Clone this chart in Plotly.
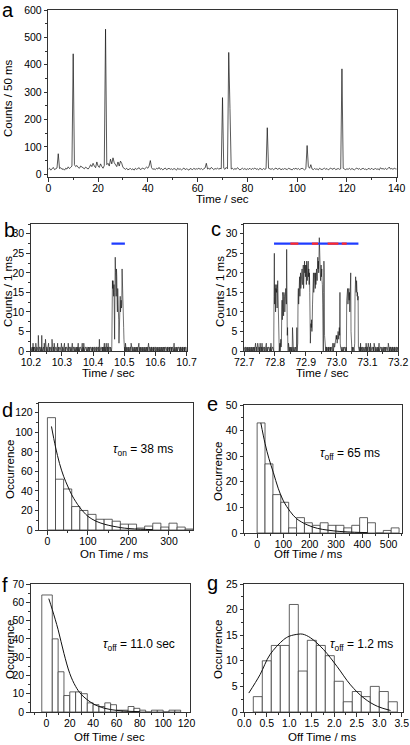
import numpy as np
import plotly.graph_objects as go

W, H = 410, 745
FONT = "Liberation Sans, Arial, Helvetica, sans-serif"
INK = "#111111"

# ---------------- data ----------------
# Panel a: counts / 50 ms, one value every 0.5 s from 0 to 140 s
a_step = 0.5
a_counts = [
    18,22,15,20,25,17,19,23,75,21, 24,18,20,15,22,19,27,21,25,30,
    440,35,28,32,25,22,30,27,24,20, 26,22,19,25,35,28,40,30,24,45,
    30,25,38,28,22,32,530,35,40,30, 55,38,60,42,33,28,45,30,48,40,
    25,20,18,22,16,19,21,17,20,15, 22,18,20,24,17,19,23,18,21,26,
    22,30,50,24,18,20,17,22,19,25, 18,21,16,20,23,17,19,22,18,20,
    17,21,19,15,22,18,20,16,19,23, 17,20,18,15,21,19,17,22,18,20,
    19,22,18,21,17,20,23,40,19,22, 18,25,20,17,21,19,23,18,22,20,
    280,22,18,25,20,445,240,19,22,17, 21,18,24,20,16,19,22,18,21,17,
    20,18,22,17,21,19,23,18,20,16, 22,19,17,21,18,20,170,22,19,18,
    21,17,20,23,18,19,22,16,20,18, 21,19,17,22,20,18,16,21,19,22,
    18,21,17,20,22,19,16,20,105,28, 22,35,19,17,21,18,20,16,22,19,
    17,20,22,18,21,16,19,23,18,20, 22,17,19,21,18,20,385,22,19,17,
    20,18,22,17,21,19,16,20,23,18, 21,17,20,22,18,19,16,21,20,18,
    22,17,19,21,18,20,16,24,19,21, 18,22,17,20,26,19,21,18,22,20,19,
]

# Panel b: counts / 1 ms from 10.200 s
b_t0, b_step = 10.2, 0.001
b_counts = [
    1,0,1,0,1,1,0,2,0,1, 0,1,1,0,1,0,2,1,0,1, 1,0,1,0,4,1,0,1,1,0, 1,0,1,1,0,4,1,0,1,0, 1,1,0,2,1,0,1,3,0,1,
    0,1,1,0,1,0,1,2,0,1, 1,0,1,0,1,1,0,1,3,0, 1,0,1,1,0,2,1,0,1,0, 1,1,0,1,0,1,2,0,1,1, 0,1,0,1,1,0,1,0,2,1,
    1,0,1,1,0,1,0,1,2,0, 1,1,0,1,0,1,1,0,1,0, 2,1,0,1,1,0,1,0,1,1, 0,1,0,2,1,0,1,1,0,1, 0,1,1,0,1,0,1,0,1,1,
    0,1,2,0,1,1,0,1,0,1, 1,0,1,0,1,2,0,1,1,0, 2,1,0,1,0,1,1,0,1,0, 1,1,0,1,0,1,0,1,1,0, 1,0,1,1,0,1,0,1,0,1,
    1,0,1,0,1,1,0,1,0,1, 1,0,1,1,0,1,0,1,1,0, 3,1,0,1,0,1,1,0,1,0, 1,0,1,1,0,1,2,0,1,1, 0,1,2,1,0,1,1,0,2,1,
    0,1,1,0,1,0,1,0,1,0, 1,15,18,16,18,17,14,17,6,3, 15,24,20,18,14,21,19,12,10,16, 14,13,8,2,5,12,11,14,10,12, 13,11,12,21,16,10,12,11,6,3,
    1,0,1,0,2,1,0,1,1,0, 1,0,1,0,1,1,0,1,0,1, 1,0,2,1,0,1,0,1,1,0, 1,0,1,0,1,1,0,1,0,1, 0,1,1,0,1,0,1,2,0,1,
    1,0,1,1,0,1,0,1,0,1, 1,0,1,0,1,0,1,1,0,1, 0,1,0,1,1,0,1,0,2,1, 0,1,1,0,1,0,1,0,1,1, 0,1,0,1,0,1,1,0,1,0,
    1,1,0,1,0,1,0,1,1,0, 1,0,1,0,1,1,0,1,0,1, 0,1,1,0,1,0,1,0,1,1, 0,1,0,1,1,0,1,0,1,0, 1,1,0,1,0,1,0,1,1,0,
    1,0,1,0,1,1,0,1,0,1, 2,0,1,1,0,1,0,1,0,1, 1,0,1,0,1,1,0,1,0,1, 0,1,1,0,1,0,1,0,1,1, 0,1,0,1,0,1,1,0,1,0,
    1,
]
b_on_window = [10.459, 10.502]
b_bar_level = 27.5

# Panel c: counts / 1 ms from 72.700 s
c_t0, c_step = 72.7, 0.001
c_counts = [
    1,0,1,0,1,1,0,1,0,1, 0,1,1,0,1,0,1,0,1,1, 0,1,0,1,0,1,1,0,1,0, 1,0,1,1,0,1,0,2,1,0, 1,1,0,1,2,1,0,1,0,1,
    0,1,2,1,0,1,1,0,2,1, 0,1,1,0,1,0,1,1,0,1, 0,1,2,0,1,1,0,1,0,1, 1,0,1,0,1,1,0,2,1,0, 1,0,1,1,0,1,0,14,25,12,
    14,17,10,16,12,15,17,11,16,18, 13,18,12,3,0,1,2,0,1,3, 1,2,10,13,8,15,11,14,9,15, 12,14,10,15,13,16,14,12,26,8, 4,6,1,0,2,0,1,0,1,0,
    0,1,0,1,0,1,0,6,0,1, 0,0,1,0,0,1,0,1,0,0, 1,6,0,1,2,14,16,12,18,17, 19,14,18,20,16,19,18,20,21,17, 17,20,22,16,21,19,23,20,22,19,
    20,22,17,23,21,18,22,20,23,19, 21,17,20,15,4,2,5,7,6,8, 5,7,12,16,18,20,15,19,18,20, 19,16,20,17,19,21,20,18,22,24, 21,23,20,24,29,24,21,23,18,20,
    22,19,21,18,17,12,3,0,15,23, 20,4,2,0,1,0,1,0,1,1, 0,1,0,1,0,1,1,0,1,0, 1,0,1,1,0,1,0,1,2,1, 0,1,2,1,1,2,3,2,3,4,
    3,4,2,4,3,5,4,3,5,6, 4,15,2,1,0,1,0,1,1,0, 1,0,1,0,1,0,1,1,0,1, 0,1,0,13,15,14,16,12,15,14, 16,13,15,10,16,14,20,5,2,0,
    0,1,0,0,1,0,1,0,1,2, 14,16,19,17,15,18,16,14,15,13, 14,1,0,1,0,1,1,0,2,0, 1,0,1,0,1,1,0,1,0,1, 0,1,0,1,1,0,2,1,0,1,
    1,0,1,2,0,1,0,1,1,0, 2,1,0,1,0,1,1,0,1,0, 1,0,2,1,0,1,0,1,1,0, 1,0,1,0,1,1,0,1,2,0, 1,0,1,1,0,1,0,1,0,1,
    0,1,1,0,1,0,1,0,1,1, 0,1,0,1,1,0,1,0,2,1, 0,1,0,1,0,1,1,0,1,0, 1,0,1,1,0,1,0,1,0,1, 1,0,1,0,1,1,0,1,0,1,
    0,
]
c_on_window = [72.797, 73.071]
c_off_starts = [72.850, 72.920, 72.971, 73.017]
c_off_ends = [72.876, 72.940, 73.006, 73.033]
c_bar_level = 27.5

# Panel d: on-time histogram (20 ms bins)
d_bin_start, d_bin_width = 0, 20
d_counts = [115, 52, 42, 24, 20, 16, 11, 11, 9, 6, 6, 2, 4, 7, 3, 7, 3, 1]
d_fit_x = [10, 20, 30, 40, 50, 60, 70, 80, 100, 120, 140, 160, 180, 200, 230, 260]
d_fit_y = [106, 85, 68, 55, 45, 36, 29, 23, 14, 9, 6, 4, 2.5, 1.5, 0.8, 0.4]

# Panel e: off-time histogram (30 ms bins)
e_bin_start, e_bin_width = 0, 30
e_counts = [43, 27, 15, 12, 2, 6, 4, 3, 4, 3, 3, 2, 3, 6, 4, 0, 1, 2]
e_fit_x = [14, 30, 45, 62, 80, 100, 125, 150, 190, 230, 270, 315, 370, 420]
e_fit_y = [43, 35, 29, 23.5, 17.5, 12.5, 8.5, 5.6, 3.2, 1.8, 1.1, 0.6, 0.3, 0.15]

# Panel f: off-time histogram (5 s bins; the first bar is drawn wider in the source)
f_bin_edges = [-4, 5, 10, 15, 20, 25, 30, 35, 40, 45, 50, 55, 60, 65, 70, 75, 80,
               85, 90, 95, 100, 105, 110, 115]
f_counts = [64, 40, 22, 9, 11, 11, 10, 5, 4, 3, 5, 4, 1, 1, 3, 2, 1, 0, 1, 1, 0, 1, 1]
f_fit_x = [2, 5, 10, 15, 20, 25, 30, 40, 50, 60, 70, 80]
f_fit_y = [62, 56, 45, 32, 21, 14, 9.5, 4.5, 2, 0.9, 0.4, 0.2]

# Panel g: off-time histogram (0.2 ms bins)
g_bin_start, g_bin_width = 0.2, 0.2
g_counts = [3, 10, 13, 13, 21, 8, 14, 13, 11, 6, 2, 4, 3, 5, 4, 2]
g_fit_x = [0.1, 0.35, 0.57, 0.87, 1.0, 1.2, 1.3, 1.47, 1.76, 2.06, 2.36, 2.66, 2.96, 3.25]
g_fit_y = [3.7, 7.3, 11.2, 14.1, 14.8, 15.2, 15.2, 14.5, 12.2, 8.9, 5.3, 2.7, 1.1, 0.3]

# ---------------- figure ----------------
def px(x):
    return x / W

def py(y):
    return 1 - y / H

fig = go.Figure()

def trace_line(x, y, k, color=INK, width=0.8, shape="linear"):
    fig.add_trace(go.Scatter(x=x, y=y, mode="lines", xaxis=f"x{k}", yaxis=f"y{k}",
                             line=dict(color=color, width=width, shape=shape),
                             hoverinfo="skip", showlegend=False))

def hist_edges(counts, edges, k):
    centers = [(edges[i] + edges[i + 1]) / 2 for i in range(len(counts))]
    widths = [edges[i + 1] - edges[i] for i in range(len(counts))]
    fig.add_trace(go.Bar(x=centers, y=counts, width=widths, xaxis=f"x{k}", yaxis=f"y{k}",
                         marker=dict(color="white", line=dict(color="#3a3a3a", width=0.8)),
                         hoverinfo="skip", showlegend=False))

def hist(counts, start, width, k):
    edges = [start + width * i for i in range(len(counts) + 1)]
    hist_edges(counts, edges, k)

# a
a_t = [i * a_step for i in range(len(a_counts))]
trace_line(a_t, a_counts, "", width=0.7)
# b
b_t = [b_t0 + i * b_step for i in range(len(b_counts))]
trace_line(b_t, b_counts, 2, width=0.6)
trace_line(b_on_window, [b_bar_level] * 2, 2, color="#1f3cff", width=2.2)
# c
c_t = [c_t0 + i * c_step for i in range(len(c_counts))]
trace_line(c_t, c_counts, 3, width=0.6)
trace_line(c_on_window, [c_bar_level] * 2, 3, color="#1f3cff", width=2.2)
for s, e in zip(c_off_starts, c_off_ends):
    trace_line([s, e], [c_bar_level] * 2, 3, color="#ff2a2a", width=2.2)
# d-g
hist(d_counts, d_bin_start, d_bin_width, 4)
trace_line(d_fit_x, d_fit_y, 4, color="#111", width=1.0, shape="spline")
hist(e_counts, e_bin_start, e_bin_width, 5)
trace_line(e_fit_x, e_fit_y, 5, color="#111", width=1.0, shape="spline")
hist_edges(f_counts, f_bin_edges, 6)
trace_line(f_fit_x, f_fit_y, 6, color="#111", width=1.0, shape="spline")
hist(g_counts, g_bin_start, g_bin_width, 7)
trace_line(g_fit_x, g_fit_y, 7, color="#111", width=1.0, shape="spline")


def axis(domain, rng, dtick, mdtick, anchor, fmt=None, standoff=0):
    d = dict(domain=domain, range=rng, anchor=anchor, automargin=False, showline=True,
             linecolor="#333", linewidth=1, mirror=True, ticks="outside", ticklen=3.5,
             tickwidth=1, tickcolor="#333", tick0=0, dtick=dtick, showgrid=False,
             zeroline=False, ticklabelstandoff=standoff,
             minor=dict(ticks="outside", ticklen=2, tickwidth=1, tickcolor="#333",
                        dtick=mdtick, tick0=0, showgrid=False),
             tickfont=dict(family=FONT, size=10.5, color="black"), fixedrange=True)
    if fmt:
        d["tickformat"] = fmt
    return d

# plot-area boxes in pixels: (left, right, top, bottom)
boxes = {
    "": (48.3, 396.7, 10, 177),
    "2": (30.7, 186.7, 224, 351),
    "3": (244, 398.3, 224, 351),
    "4": (39.3, 193.3, 403, 530),
    "5": (244, 401.7, 405, 533),
    "6": (30.7, 190, 584, 712),
    "7": (244.3, 402.7, 584, 712),
}
specs = {
    "": dict(xr=[0, 140], xd=20, xm=10, yr=[-10, 600], yd=100, ym=50),
    "2": dict(xr=[10.1995, 10.7005], xd=0.1, xm=0.05, yr=[0, 32.5], yd=5, ym=2.5, xf=".1f"),
    "3": dict(xr=[72.6995, 73.2005], xd=0.1, xm=0.05, yr=[0, 32.5], yd=5, ym=2.5, xf=".1f"),
    "4": dict(xr=[-20, 360], xd=100, xm=50, yr=[0, 130], yd=20, ym=10),
    "5": dict(xr=[-50, 550], xd=100, xm=50, yr=[0, 50], yd=10, ym=5),
    "6": dict(xr=[-13.5, 123], xd=20, xm=10, yr=[0, 70], yd=10, ym=5),
    "7": dict(xr=[0, 3.52], xd=0.5, xm=0.25, yr=[0, 25], yd=5, ym=2.5, xf=".1f"),
}
layout_axes = {}
for k, (l, r, t, b) in boxes.items():
    s = specs[k]
    layout_axes[f"xaxis{k}"] = axis([px(l), px(r)], s["xr"], s["xd"], s["xm"], f"y{k}",
                                    s.get("xf"), standoff=-2)
    layout_axes[f"yaxis{k}"] = axis([py(b), py(t)], s["yr"], s["yd"], s["ym"], f"x{k}")

ann = []

def text(t, x, y, size=11.5, angle=0, xanchor="center"):
    ann.append(dict(text=t, x=px(x), y=py(y), xref="paper", yref="paper", showarrow=False,
                    xanchor=xanchor, yanchor="middle", textangle=angle,
                    font=dict(family=FONT, size=size, color="black")))

# axis titles
text("Time / sec", 222, 199)
text("Counts / 50 ms", 8, 98, angle=-90)
text("Time / sec", 108, 373)
text("Counts / 1 ms", 8, 292, angle=-90)
text("Time / sec", 322, 373)
text("Counts / 1 ms", 220, 292, angle=-90)
text("On Time / ms", 114, 554)
text("Occurrence", 10, 470, angle=-90)
text("Off Time / ms", 308, 554)
text("Occurrence", 218, 472, angle=-90)
text("Off Time / sec", 109, 737)
text("Occurrence", 10, 650, angle=-90)
text("Off Time / ms", 322, 737)
text("Occurrence", 218, 650, angle=-90)

# panel letters
for letter, x, y in [("a", 8, 10), ("b", 9, 230), ("c", 216, 229), ("d", 7, 410),
                     ("e", 212, 404), ("f", 5, 585), ("g", 212, 583)]:
    text(letter, x, y, size=20)

# fit labels
text("<i>τ</i><sub>on</sub> = 38 ms", 111, 450, size=12, xanchor="left")
text("<i>τ</i><sub>off</sub> = 65 ms", 318, 454, size=12, xanchor="left")
text("<i>τ</i><sub>off</sub> = 11.0 sec", 101, 645, size=12, xanchor="left")
text("<i>τ</i><sub>off</sub> = 1.2 ms", 328, 645, size=12, xanchor="left")

fig.update_layout(width=W, height=H, margin=dict(l=0, r=0, t=0, b=0, autoexpand=False),
                  paper_bgcolor="white", plot_bgcolor="white", showlegend=False,
                  bargap=0, annotations=ann, font=dict(family=FONT), **layout_axes)

fig.write_html("out.html", config={"displayModeBar": False, "staticPlot": True},
               post_script="document.body.style.margin='0';document.body.style.overflow='hidden';")
